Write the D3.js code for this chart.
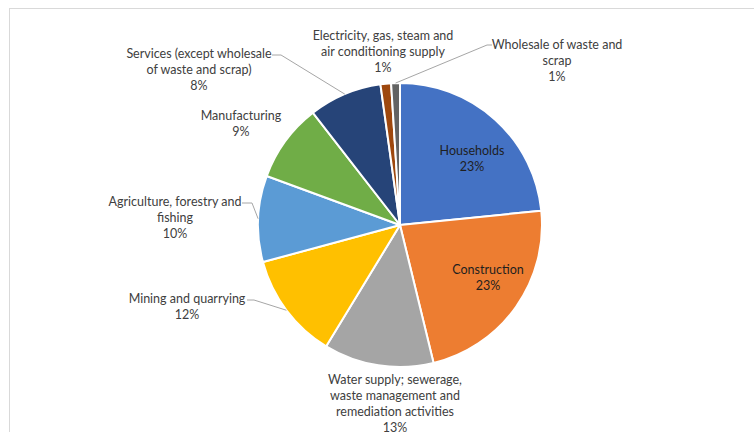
<!DOCTYPE html>
<html>
<head>
<meta charset="utf-8">
<script src="https://cdn.jsdelivr.net/npm/d3@7"></script>
<style>
  body { margin: 0; background: #fff; }
  text { font-family: Lato, "Liberation Sans", sans-serif; font-size: 12.5px; }
</style>
</head>
<body>
<div id="chart"></div>
<script>
// sectors, clockwise from 12 o'clock
const sectors = ["Households", "Construction", "Water supply", "Mining", "Agriculture",
                 "Manufacturing", "Services", "Electricity", "Wholesale"];
const labelLines = [
  ["Households"],
  ["Construction"],
  ["Water supply; sewerage,", "waste management and", "remediation activities"],
  ["Mining and quarrying"],
  ["Agriculture, forestry and", "fishing"],
  ["Manufacturing"],
  ["Services (except wholesale", "of waste and scrap)"],
  ["Electricity, gas, steam and", "air conditioning supply"],
  ["Wholesale of waste and", "scrap"]
];
const shares = [23.4, 22.8, 12.5, 12.1, 9.8, 8.9, 8.3, 1.2, 1.0];
const colors = ["#4472C4", "#ED7D31", "#A5A5A5", "#FFC000", "#5B9BD5",
                "#70AD47", "#264478", "#9E480E", "#636363"];

const width = 754, height = 432;
const cx = 400, cy = 225, radius = 142;

// where each label block sits: centre x, centre y of first line
const labelPos = {
  "Households":    {x: 472, y: 151, fill: "#1f1f1f"},
  "Construction":  {x: 488, y: 270, fill: "#1f1f1f"},
  "Water supply":  {x: 395, y: 380},
  "Mining":        {x: 187, y: 299},
  "Agriculture":   {x: 175, y: 202},
  "Manufacturing": {x: 241, y: 116},
  "Services":      {x: 199, y: 54},
  "Electricity":   {x: 383, y: 36},
  "Wholesale":     {x: 557, y: 45}
};
// leader lines: start at label edge, bend at knee, end on the slice edge
const leaders = {
  "Services":    [[272, 55], [281, 55]],
  "Agriculture": [[242, 203], [252, 203]],
  "Mining":      [[247, 300], [254, 300]],
  "Wholesale":   [[492, 45], [487, 45]]
};

const svg = d3.select("#chart").append("svg")
  .attr("width", width)
  .attr("height", height);

// chart area border
svg.append("rect")
  .attr("x", 9.5).attr("y", 8.5)
  .attr("width", width).attr("height", height)
  .attr("fill", "none")
  .attr("stroke", "#d9d9d9")
  .attr("stroke-width", 1);

const data = sectors.map((s, i) => ({name: s, value: shares[i], lines: labelLines[i], color: colors[i]}));

const pie = d3.pie().value(d => d.value).sort(null);
const arc = d3.arc().innerRadius(0).outerRadius(radius);
const arcs = pie(data);

const g = svg.append("g").attr("transform", "translate(" + cx + "," + cy + ")");

g.selectAll("path")
  .data(arcs)
  .enter()
  .append("path")
  .attr("d", arc)
  .attr("fill", d => d.data.color)
  .attr("stroke", "#fff")
  .attr("stroke-width", 2)
  .attr("stroke-linejoin", "round");

// leader lines
arcs.forEach(function(d) {
  const pts = leaders[d.data.name];
  if (!pts) return;
  const a = (d.startAngle + d.endAngle) / 2;
  const end = [cx + radius * Math.sin(a), cy - radius * Math.cos(a)];
  svg.append("path")
    .attr("d", d3.line()(pts.concat([end])))
    .attr("fill", "none")
    .attr("stroke", "#a6a6a6")
    .attr("stroke-width", 1);
});

// data labels
arcs.forEach(function(d) {
  const p = labelPos[d.data.name];
  const lines = d.data.lines.concat([Math.round(d.data.value) + "%"]);
  const t = svg.append("text")
    .attr("text-anchor", "middle")
    .attr("fill", p.fill || "#404040");
  lines.forEach(function(line, i) {
    t.append("tspan")
      .attr("x", p.x)
      .attr("y", p.y + i * 16)
      .attr("dy", "0.35em")
      .text(line);
  });
});
</script>
</body>
</html>
